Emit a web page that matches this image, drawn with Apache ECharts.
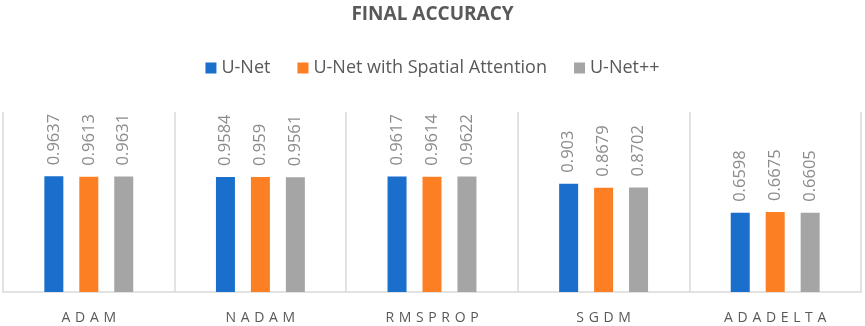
<!DOCTYPE html>
<html>
<head>
<meta charset="utf-8">
<script src="https://cdn.jsdelivr.net/npm/echarts@6/dist/echarts.min.js"></script>
<style>
  html, body { margin: 0; padding: 0; background: #fff; }
  #main { width: 865px; height: 326px; }
</style>
</head>
<body>
<div id="main"></div>
<script>
var optimizers = ['ADAM', 'NADAM', 'RMSPROP', 'SGDM', 'ADADELTA'];
var unet = [0.9637, 0.9584, 0.9617, 0.903, 0.6598];
var unetAttention = [0.9613, 0.959, 0.9614, 0.8679, 0.6675];
var unetPlusPlus = [0.9631, 0.9561, 0.9622, 0.8702, 0.6605];

var myChart = echarts.init(document.getElementById('main'));

// spread letters a bit, like the spaced axis text of the original
function spaced(s, gap) {
    return s.split('').join(gap);
}

// rotated value label above each bar
function barLabel() {
    return {
        show: true,
        position: 'top',
        distance: 11,
        rotate: 90,
        align: 'left',
        verticalAlign: 'middle',
        color: '#8c8c8c',
        fontSize: 16.5,
        fontFamily: 'Open Sans'
    };
}

var option = {
    backgroundColor: '#fff',
    animation: false,
    title: {
        text: 'FINAL ACCURACY',
        left: 'center',
        top: 0,
        textStyle: {
            color: '#595959',
            fontSize: 19,
            fontWeight: 'bold',
            fontFamily: 'Open Sans'
        }
    },
    legend: {
        top: 54,
        left: 'center',
        itemWidth: 11,
        itemHeight: 11,
        itemGap: 27,
        icon: 'rect',
        textStyle: { color: '#595959', fontSize: 18, fontFamily: 'Open Sans' },
        data: ['U-Net', 'U-Net with Spatial Attention', 'U-Net++']
    },
    grid: { left: 3, right: 4, top: 112, bottom: 34 },
    xAxis: {
        type: 'category',
        data: optimizers,
        axisLine: { lineStyle: { color: '#d9d9d9', width: 1.5 } },
        axisTick: { show: false },
        splitLine: { show: true, lineStyle: { color: '#d9d9d9', width: 1.5 } },
        axisLabel: {
            color: '#595959',
            fontSize: 14,
            margin: 19,
            fontFamily: 'Open Sans',
            formatter: function (v) { return spaced(v, '\u2009\u2009'); }
        }
    },
    yAxis: {
        type: 'value',
        min: 0,
        max: 1.5,
        show: false,
        splitLine: { show: false }
    },
    series: [
        {
            name: 'U-Net',
            type: 'bar',
            data: unet,
            barWidth: 19,
            barGap: '84%',
            itemStyle: { color: '#1a6fcc' },
            label: barLabel()
        },
        {
            name: 'U-Net with Spatial Attention',
            type: 'bar',
            data: unetAttention,
            barWidth: 19,
            barGap: '84%',
            itemStyle: { color: '#fd7f24' },
            label: barLabel()
        },
        {
            name: 'U-Net++',
            type: 'bar',
            data: unetPlusPlus,
            barWidth: 19,
            barGap: '84%',
            itemStyle: { color: '#a5a5a5' },
            label: barLabel()
        }
    ]
};

myChart.setOption(option);
</script>
</body>
</html>
